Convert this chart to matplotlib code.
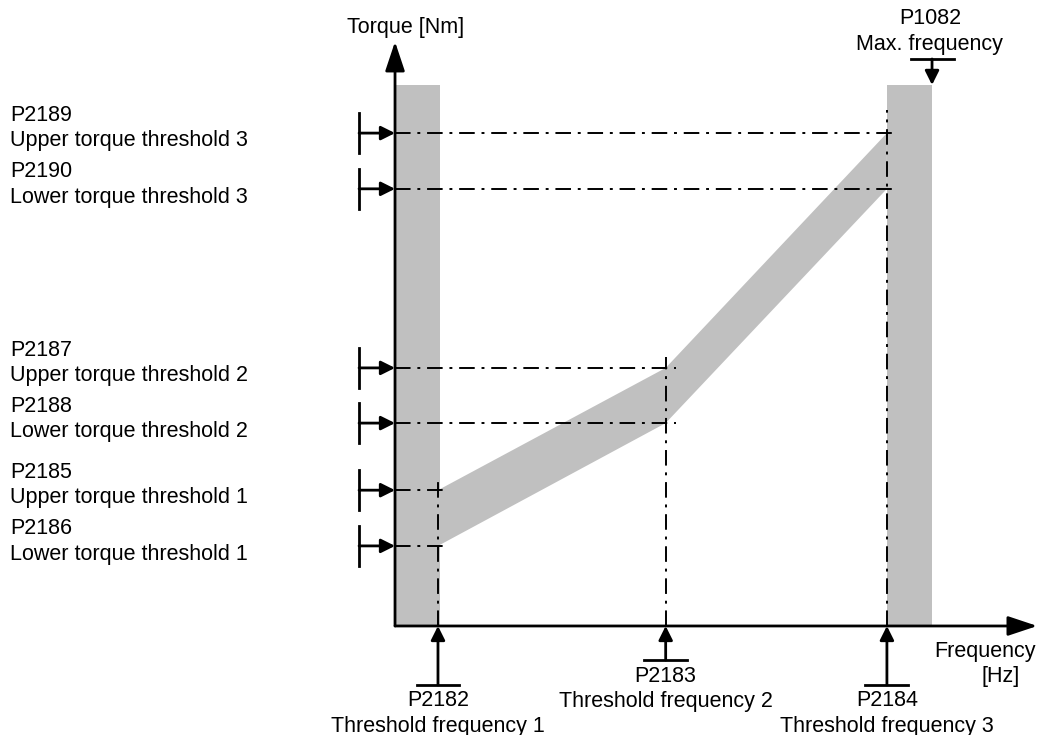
import matplotlib.pyplot as plt

plt.rcParams['font.family'] = ['Liberation Sans', 'DejaVu Sans']

# Threshold frequencies [Hz]
freq_codes = ['P2182', 'P2183', 'P2184']
freq_names = ['Threshold frequency 1', 'Threshold frequency 2', 'Threshold frequency 3']
freq_thresholds = [4.0, 25.2, 45.8]
f_max = 50.0

# Torque thresholds [Nm] (upper, lower) per frequency threshold
upper_codes = ['P2185', 'P2187', 'P2189']
lower_codes = ['P2186', 'P2188', 'P2190']
upper_names = ['Upper torque threshold 1', 'Upper torque threshold 2', 'Upper torque threshold 3']
lower_names = ['Lower torque threshold 1', 'Lower torque threshold 2', 'Lower torque threshold 3']
upper_torque = [25.1, 47.7, 91.1]
lower_torque = [14.8, 37.5, 80.8]
torque_top = 100.0

GRAY = '#c0c0c0'
DASHDOT = (0, (8, 3.5, 1.5, 3.5))
FS = 15.5
LS = 1.27

fig = plt.figure(figsize=(10.39, 7.35), dpi=100)
ax = fig.add_axes([0, 0, 1, 1])
ax.set_xlim(-36.78, 59.96)
ax.set_ylim(-20.15, 115.7)
ax.axis('off')

# gray tolerance areas
ax.bar(0, torque_top, width=freq_thresholds[0] + 0.15, align='edge', color=GRAY, zorder=1)
ax.bar(freq_thresholds[2], torque_top, width=f_max - freq_thresholds[2], align='edge',
       color=GRAY, zorder=1)
band_x = freq_thresholds + freq_thresholds[::-1]
band_y = lower_torque + upper_torque[::-1]
ax.fill(band_x, band_y, color=GRAY, lw=0, zorder=1)

# dash-dot guide lines
for f, tu, tl in zip(freq_thresholds, upper_torque, lower_torque):
    ax.plot([0, f + 1.0], [tu, tu], color='black', lw=1.4, ls=DASHDOT, zorder=2)
    ax.plot([0, f + 1.0], [tl, tl], color='black', lw=1.4, ls=DASHDOT, zorder=2)
over = [1.5, 2.0, 4.3]
for f, tu, o in zip(freq_thresholds, upper_torque, over):
    ax.plot([f, f], [0, tu + o], color='black', lw=1.4, ls=DASHDOT, zorder=2)

# axes with arrows
big = dict(arrowstyle='-|>,head_length=0.9,head_width=0.3', color='black', lw=2,
           mutation_scale=20, shrinkA=0, shrinkB=0)
ax.annotate('', xy=(0, 108.0), xytext=(0, 0), arrowprops=big, zorder=4)
ax.annotate('', xy=(59.8, 0), xytext=(0, 0), arrowprops=big, zorder=4)
ax.text(1.0, 110.7, 'Torque [Nm]', ha='center', va='center', fontsize=FS)
ax.text(54.9, -4.8, 'Frequency', ha='center', va='center', fontsize=FS)
ax.text(56.4, -9.3, '[Hz]', ha='center', va='center', fontsize=FS)

small = dict(arrowstyle='-|>,head_length=0.6,head_width=0.3', color='black', lw=2,
             mutation_scale=14, shrinkA=0, shrinkB=0)

# torque threshold markers on the left
for codes, names, vals, dy in [(upper_codes, upper_names, upper_torque, 0.95),
                               (lower_codes, lower_names, lower_torque, 0.8)]:
    for c, n, t in zip(codes, names, vals):
        ax.plot([-3.35, -3.35], [t - 3.7, t + 3.7], color='black', lw=2, zorder=4)
        ax.annotate('', xy=(0, t), xytext=(-3.35, t), arrowprops=small, zorder=4)
        ax.text(-35.85, t + dy, c + '\n' + n, ha='left', va='center', fontsize=FS,
                linespacing=LS)

# frequency threshold markers below
bottoms = [-10.9, -6.3, -10.9]
for c, n, f, b in zip(freq_codes, freq_names, freq_thresholds, bottoms):
    ax.plot([f - 2.0, f + 2.0], [b, b], color='black', lw=2, zorder=4)
    ax.annotate('', xy=(f, 0), xytext=(f, b), arrowprops=small, zorder=5)
    ax.text(f, b - 5.3, c + '\n' + n, ha='center', va='center', fontsize=FS,
            linespacing=LS)

# max frequency marker
ax.plot([f_max - 2.0, f_max + 2.0], [104.8, 104.8], color='black', lw=2, zorder=4)
ax.annotate('', xy=(f_max, torque_top), xytext=(f_max, 104.8), arrowprops=small, zorder=4)
ax.text(f_max - 0.2, 109.9, 'P1082\nMax. frequency', ha='center', va='center', fontsize=FS,
        linespacing=LS)

fig.savefig('out.png', dpi=100)
